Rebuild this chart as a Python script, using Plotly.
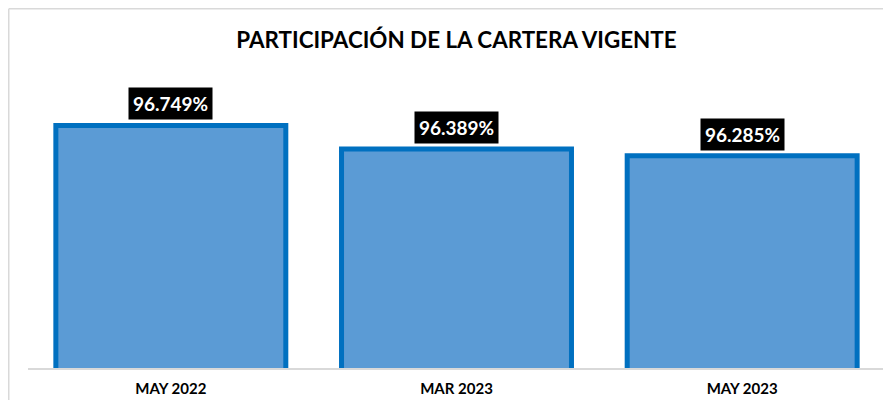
import plotly.graph_objects as go

categories = ["MAY 2022", "MAR 2023", "MAY 2023"]
values = [96.749, 96.389, 96.285]
title_text = "PARTICIPACIÓN DE LA CARTERA VIGENTE"

FONT = "Lato, 'Open Sans', sans-serif"
# page body has an 8px margin, so the figure is sized/offset to compensate
W, H = 883, 392
L, R, T, B = 20, 6, 52, 31.5
y_range = [93.05, 97.746]

fig = go.Figure()
fig.add_trace(go.Bar(
    x=categories, y=values,
    marker=dict(color="#5B9BD5", line=dict(color="#0070C0", width=5)),
    hoverinfo="skip",
))

for c, v in zip(categories, values):
    fig.add_annotation(
        x=c, y=v, xref="x", yref="y",
        text=f"{v:.3f}%", showarrow=False,
        yanchor="bottom", yshift=5,
        bgcolor="#000000", borderpad=4,
        font=dict(family=FONT, size=19, color="#FFFFFF", weight="bold"),
    )

plot_h = H - T - B
plot_w = W - L - R
# outer chart border (left and top edges visible)
bx = (0.75 - L) / plot_w
by = (H - B - 0.75) / plot_h
fig.add_shape(type="line", xref="paper", yref="paper", x0=bx, x1=1.2, y0=by, y1=by,
              line=dict(color="#D9D9D9", width=1.5), layer="below")
fig.add_shape(type="line", xref="paper", yref="paper", x0=bx, x1=bx, y0=by, y1=-0.3,
              line=dict(color="#D9D9D9", width=1.5), layer="below")

fig.update_layout(
    width=W, height=H,
    margin=dict(l=L, r=R, t=T, b=B),
    paper_bgcolor="#FFFFFF", plot_bgcolor="#FFFFFF",
    bargap=0.195,
    showlegend=False,
    title=dict(text=title_text, x=0.5, xref="paper", y=1 - 32 / H, yref="container",
               xanchor="center", yanchor="middle",
               font=dict(family=FONT, size=22.4, color="#000000", weight="bold")),
    xaxis=dict(showline=True, linecolor="#D9D9D9", linewidth=1.5, ticks="",
               showgrid=False, zeroline=False, ticklabelstandoff=6, automargin=False,
               tickfont=dict(family=FONT, size=15, color="#000000", weight="bold")),
    yaxis=dict(range=y_range, visible=False, showgrid=False, zeroline=False),
)

fig.write_html("out.html")
